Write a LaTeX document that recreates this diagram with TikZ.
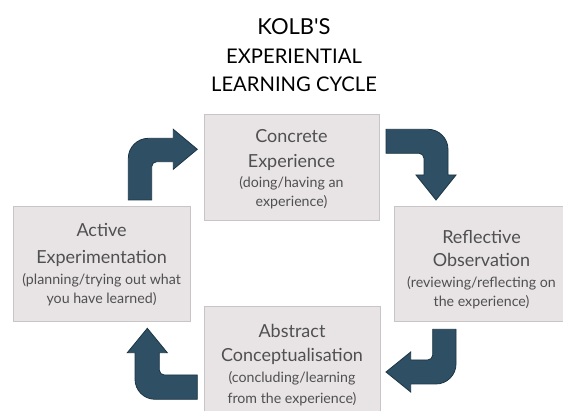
\documentclass[tikz,border=0pt]{standalone}
\usepackage{fontspec}
\setmainfont{Lato}
\definecolor{boxfill}{HTML}{E8E4E6}
\definecolor{boxline}{HTML}{C9C5C7}
\definecolor{boxtext}{HTML}{505050}
\definecolor{arrowfill}{HTML}{2F5064}
\definecolor{arrowline}{HTML}{1C3545}
\begin{document}
\begin{tikzpicture}[x=1pt,y=-1pt,
	stagebox/.style={rectangle,draw=boxline,fill=boxfill,line width=0.8pt,inner sep=0pt},
	stagehead/.style={anchor=base,align=center,text=boxtext,inner sep=0pt,
		font=\fontsize{18}{25}\selectfont},
	stagesub/.style={anchor=base,align=center,text=boxtext,inner sep=0pt,
		font=\fontsize{14.2}{19.5}\selectfont},
	cyclearrow/.style={fill=arrowfill,draw=arrowline,line width=0.8pt}]
	\clip (0,0) rectangle (563,411);
	\fill[white] (0,0) rectangle (563,411);
	% title
	\node (title) at (294,91.7) [anchor=base,align=center,inner sep=0pt,
		font=\fontsize{20.2}{29}\selectfont]
		{{\fontsize{22}{29}\selectfont KOLB\textquotesingle S}\\EXPERIENTIAL\\[-1pt]LEARNING CYCLE};
	% the four stages
	\node (concrete) at (291.5,167) [stagebox,minimum width=175pt,minimum height=106pt] {};
	\node (active) at (101.6,264.2) [stagebox,minimum width=176.7pt,minimum height=115pt] {};
	\node (reflective) at (481.5,264.2) [stagebox,minimum width=175pt,minimum height=115pt] {};
	\node (abstract) at (292,364.2) [stagebox,minimum width=176pt,minimum height=115pt] {};
	\path node (concrete head) at (291.5,167.7) [stagehead] {Concrete\\Experience}
	node (concrete sub) at (291.5,206.7) [stagesub] {(doing/having an\\experience)}
	node (active head) at (101.6,264) [stagehead] {Active\\[2pt]Experimentation}
	node (active sub) at (101.6,304) [stagesub] {(planning/trying out what\\you have learned)}
	node (reflective head) at (481.5,266.7) [stagehead] {Reflective\\[-1.5pt]Observation}
	node (reflective sub) at (481.5,306.7) [stagesub] {(reviewing/reflecting on\\the experience)}
	node (abstract head) at (292,361.7) [stagehead] {Abstract\\[-0.5pt]Conceptualisation}
	node (abstract sub) at (292,403.3) [stagesub] {(concluding/learning\\[1pt]from the experience)};
	% arrows between the stages
	\draw[cyclearrow] (128.3,200) -- (128.3,158.3)
		.. controls (128.3,147.3) and (137.3,138.3) .. (148.3,138.3)
		-- (173.3,138.3) -- (173.3,129.3) -- (197.3,149.3) -- (173.3,169.3) -- (173.3,161.7)
		-- (156.7,161.7) .. controls (153.9,161.7) and (151.7,163.9) .. (151.7,166.7)
		-- (151.7,200) -- cycle;
	\draw[cyclearrow] (386,129.3) -- (428,129.3)
		.. controls (439,129.3) and (448,138.3) .. (448,149.3)
		-- (448,175) -- (456,175) -- (436,200) -- (416,175) -- (424,175)
		-- (424,158.3) .. controls (424,155.5) and (421.8,153.3) .. (419,153.3)
		-- (386,153.3) -- cycle;
	\draw[cyclearrow] (432.7,329.3) -- (456,329.3) -- (456,364)
		.. controls (456,375) and (447,384) .. (436,384)
		-- (410.7,384) -- (410.7,392) -- (386,372) -- (410.7,352) -- (410.7,360)
		-- (427.7,360) .. controls (430.5,360) and (432.7,357.8) .. (432.7,355)
		-- cycle;
	\draw[cyclearrow] (197.3,375) -- (197.3,399.3) -- (155,399.3)
		.. controls (144,399.3) and (135,390.3) .. (135,379.3)
		-- (135,352.7) -- (127.3,352.7) -- (147.3,328.3) -- (167.3,352.7) -- (159.3,352.7)
		-- (159.3,370) .. controls (159.3,372.8) and (161.5,375) .. (164.3,375)
		-- cycle;
\end{tikzpicture}
\end{document}
